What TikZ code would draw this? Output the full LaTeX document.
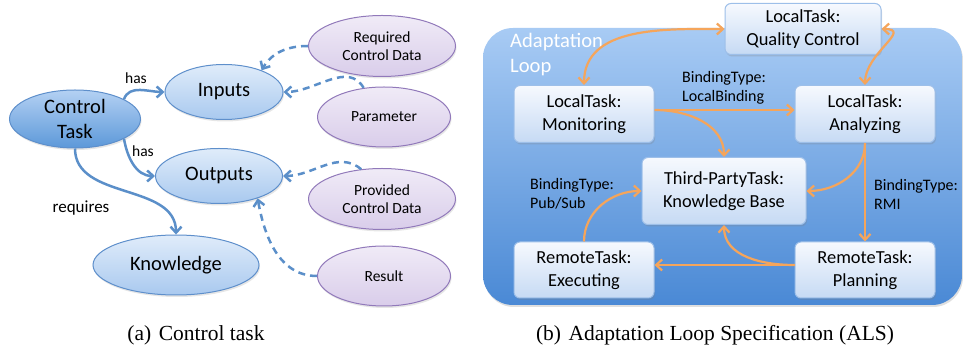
\documentclass[tikz,border=0pt]{standalone}
\usepackage{fontspec}
\setmainfont{Carlito}
\newfontfamily\capfont{Liberation Serif}
\usetikzlibrary{shapes.geometric,arrows.meta,shadows}

\definecolor{conceptline}{HTML}{5E8FCB}
\definecolor{conceptlight}{HTML}{E0ECFA}
\definecolor{conceptdark}{HTML}{A9C9EF}
\definecolor{rootlight}{HTML}{B4D1F3}
\definecolor{rootdark}{HTML}{5C98D9}
\definecolor{dataline}{HTML}{9179BA}
\definecolor{datalight}{HTML}{F0EBF7}
\definecolor{datadark}{HTML}{D9CDEA}
\definecolor{relblue}{HTML}{5B8FC9}
\definecolor{looplight}{HTML}{A8CBF4}
\definecolor{loopdark}{HTML}{4A89D5}
\definecolor{taskline}{HTML}{9DBFE9}
\definecolor{tasklight}{HTML}{F6F9FE}
\definecolor{taskdark}{HTML}{C6DAF4}
\definecolor{bindorange}{HTML}{F5A55B}

\begin{document}
\begin{tikzpicture}[
    x=1pt, y=1pt,
    >={Straight Barb[length=6pt,width=11pt]},
    concept/.style={
        ellipse,
        draw=conceptline,
        line width=1pt,
        top color=conceptlight,
        bottom color=conceptdark,
        inner sep=0pt,
        align=center,
        font=\fontsize{20.5}{25}\selectfont,
        drop shadow={shadow xshift=1pt,shadow yshift=-2pt,opacity=0.2}
    },
    root/.style={
        concept,
        top color=rootlight,
        bottom color=rootdark
    },
    data/.style={
        ellipse,
        draw=dataline,
        line width=1pt,
        top color=datalight,
        bottom color=datadark,
        inner sep=0pt,
        align=center,
        minimum width=147pt,
        minimum height=61pt,
        font=\fontsize{15.5}{18}\selectfont,
        drop shadow={shadow xshift=1pt,shadow yshift=-2pt,opacity=0.2}
    },
    task/.style={
        rectangle,
        draw=taskline,
        line width=1pt,
        rounded corners=6pt,
        top color=tasklight,
        bottom color=taskdark,
        minimum width=140pt,
        minimum height=57pt,
        align=center,
        font=\fontsize{18.4}{23}\selectfont,
        drop shadow={shadow xshift=1pt,shadow yshift=-2pt,opacity=0.25}
    },
    relation/.style={
        ->,
        line width=2.5pt,
        draw=relblue
    },
    feeds/.style={
        ->,
        line width=2.5pt,
        draw=relblue,
        dash pattern=on 7pt off 5pt
    },
    binding/.style={
        ->,
        line width=2.2pt,
        draw=bindorange
    },
    twoway/.style={
        <->,
        line width=2.2pt,
        draw=bindorange
    },
    edgelabel/.style={
        font=\fontsize{15.5}{18}\selectfont
    },
    bindlabel/.style={
        align=left,
        inner sep=0pt,
        font=\fontsize{16}{19}\selectfont
    },
    caption/.style={
        font=\capfont\fontsize{21.5}{24}\selectfont
    }
]
\useasboundingbox (0,0) rectangle (963,353);

% --- (a) Control task ---
\node[root, minimum width=131pt, minimum height=58pt] (ctrl) at (75,234) {Control\\Task};
\node[concept, minimum width=118pt, minimum height=55pt] (inp) at (224,261) {Inputs};
\node[concept, minimum width=127pt, minimum height=55pt] (outp) at (219,177) {Outputs};
\node[concept, minimum width=166pt, minimum height=60pt] (know) at (176,88) {Knowledge};

\node[data] (req) at (382,307) {Required\\Control Data};
\node[data, minimum width=133pt, minimum height=60pt] (param) at (384,236) {Parameter};
\node[data] (prov) at (382,154) {Provided\\Control Data};
\node[data, minimum width=133pt, minimum height=60pt] (res) at (384,77) {Result};

\draw[relation] (ctrl.22) to[out=70,in=180] (inp.west);
\draw[relation] (ctrl.-22) to[out=-80,in=180] (outp.west);
\draw[relation] (ctrl.south) to[out=-90,in=90] (know.north);
\node[edgelabel] (has1) at (136,275) {has};
\node[edgelabel] (has2) at (143,202) {has};
\node[edgelabel, font=\fontsize{17}{20}\selectfont] (reqlbl) at (81,145) {requires};

\draw[feeds] (req.west) to[out=180,in=60] (inp.30);
\draw[feeds] (param.125) to[out=120,in=0] (inp.east);
\draw[feeds] (prov.125) to[out=140,in=0] (outp.east);
\draw[feeds] (res.west) to[out=180,in=-80] (outp.-30);

% --- (b) Adaptation loop ---
\draw[top color=looplight, bottom color=loopdark, draw=none, rounded corners=30pt,
    drop shadow={shadow xshift=1pt,shadow yshift=-2pt,opacity=0.25}]
    (483,48) rectangle (962,325);
\node[anchor=north west, align=left, text=white, inner sep=0pt,
    font=\fontsize{20.6}{25}\selectfont] (looptitle) at (510,320) {Adaptation\\Loop};

\node[task, minimum width=156pt, minimum height=51pt] (qc) at (803,324) {LocalTask:\\Quality Control};
\node[task] (mon) at (584,239) {LocalTask:\\Monitoring};
\node[task] (ana) at (865,239) {LocalTask:\\Analyzing};
\node[task, minimum width=164pt, minimum height=67pt] (kb) at (724,162) {Third-PartyTask:\\Knowledge Base};
\node[task, minimum height=56pt] (exe) at (584,83) {RemoteTask:\\Executing};
\node[task, minimum height=56pt] (plan) at (865,83) {RemoteTask:\\Planning};

\draw[twoway] (qc.west) to[out=180,in=90] (mon.north);
\draw[twoway] (qc.east) to[out=0,in=90,looseness=1.4] (ana.north);
\draw[binding] ([yshift=4pt]mon.east) -- ([yshift=4pt]ana.west);
\draw[binding] ([yshift=4pt]mon.east) to[out=0,in=90] (kb.north);
\draw[binding] (ana.south) to[out=-90,in=0] (kb.east);
\draw[binding] (ana.south) -- (plan.north);
\draw[binding] ([yshift=5pt]plan.west) -- ([yshift=5pt]exe.east);
\draw[binding] ([yshift=5pt]plan.west) to[out=180,in=-90] (kb.south);
\draw[binding] (exe.north) to[out=90,in=180] (kb.west);

\node[bindlabel, anchor=west] (lblocal) at (682,265) {BindingType:\\LocalBinding};
\node[bindlabel, anchor=west] (lbrmi) at (874,159) {BindingType:\\RMI};
\node[bindlabel, anchor=west] (lbpub) at (530,159) {BindingType:\\Pub/Sub};

% --- Captions ---
\node[caption] (capa) at (196,18) {(a)\hspace{0.35em}Control task};
\node[caption] (capb) at (715,18) {(b)\hspace{0.35em}Adaptation Loop Specification (ALS)};

\end{tikzpicture}
\end{document}
